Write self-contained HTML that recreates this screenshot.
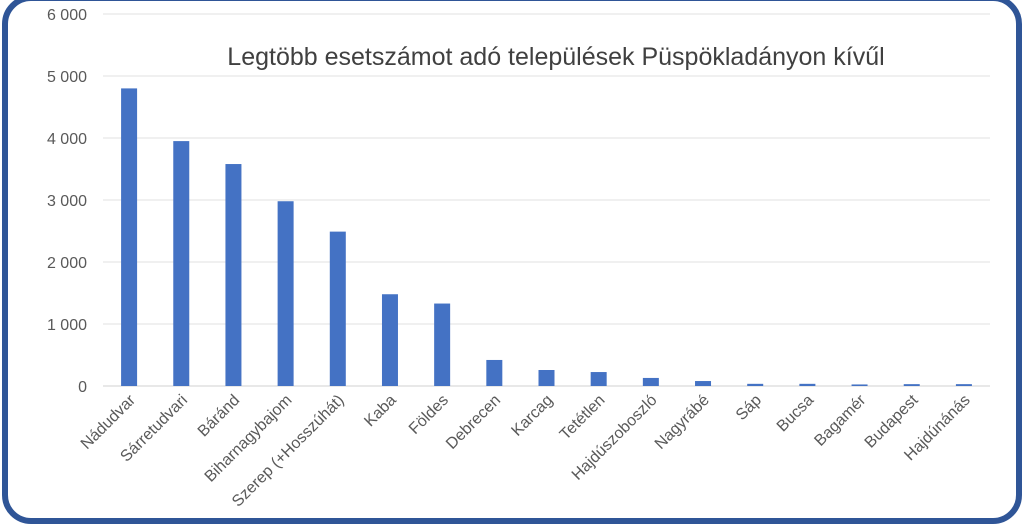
<!DOCTYPE html>
<html><head><meta charset="utf-8"><style>
body{margin:0;background:#fff;}
svg{display:block;font-family:"Liberation Sans",sans-serif;}
</style></head><body>
<svg width="1024" height="525" viewBox="0 0 1024 525">
<rect x="5" y="-2" width="1014" height="523" rx="26" fill="#fff" stroke="#2f5597" stroke-width="6"/>
<text x="556" y="65" text-anchor="middle" font-size="25" fill="#404040">Legtöbb esetszámot adó települések Püspökladányon kívűl</text>
<g id="grid"></g><g id="bars"></g><g id="labels"></g>
</svg>
<script>
const categories=["Nádudvar","Sárretudvari","Báránd","Biharnagybajom","Szerep (+Hosszúhát)","Kaba","Földes","Debrecen","Karcag","Tetétlen","Hajdúszoboszló","Nagyrábé","Sáp","Bucsa","Bagamér","Budapest","Hajdúnánás"];
const values=[4800,3950,3580,2980,2490,1480,1330,420,258,225,130,80,35,35,25,30,30];
const ticks=[0,1000,2000,3000,4000,5000,6000];
const tickLabels=["0","1 000","2 000","3 000","4 000","5 000","6 000"];
const NS="http://www.w3.org/2000/svg";
const x0=103,x1=990,y0=386,yTop=14,yMax=6000;
const band=(x1-x0)/categories.length;
const y=v=>y0-(v/yMax)*(y0-yTop);
const xc=i=>x0+band*(i+0.5);
function mk(t,a,p){const e=document.createElementNS(NS,t);for(const k in a)e.setAttribute(k,a[k]);p.appendChild(e);return e;}
const g=document.getElementById('grid'),b=document.getElementById('bars'),l=document.getElementById('labels');
ticks.forEach((t,i)=>{
  const ln=mk('line',{x1:x0,x2:x1,y1:y(t),y2:y(t),stroke:i==0?'#d0d0d0':'#e0e0e0','stroke-width':1},g);
  
  
  const tx=mk('text',{x:87,y:y(t)+6,'text-anchor':'end','font-size':16,fill:'#595959'},g);
  tx.textContent=tickLabels[i];
  
  
});
categories.forEach((c,i)=>{
  const r=mk('rect',{x:xc(i)-8,y:y(values[i]),width:16,height:y0-y(values[i]),fill:'#4472c4'},b);
  
  
  const tx=mk('text',{x:0,y:0,'text-anchor':'end','font-size':16,fill:'#595959',transform:`translate(${xc(i)+7},${y0+15}) rotate(-45)`},l);
  tx.textContent=c;
  
  
});
</script>
</body></html>
